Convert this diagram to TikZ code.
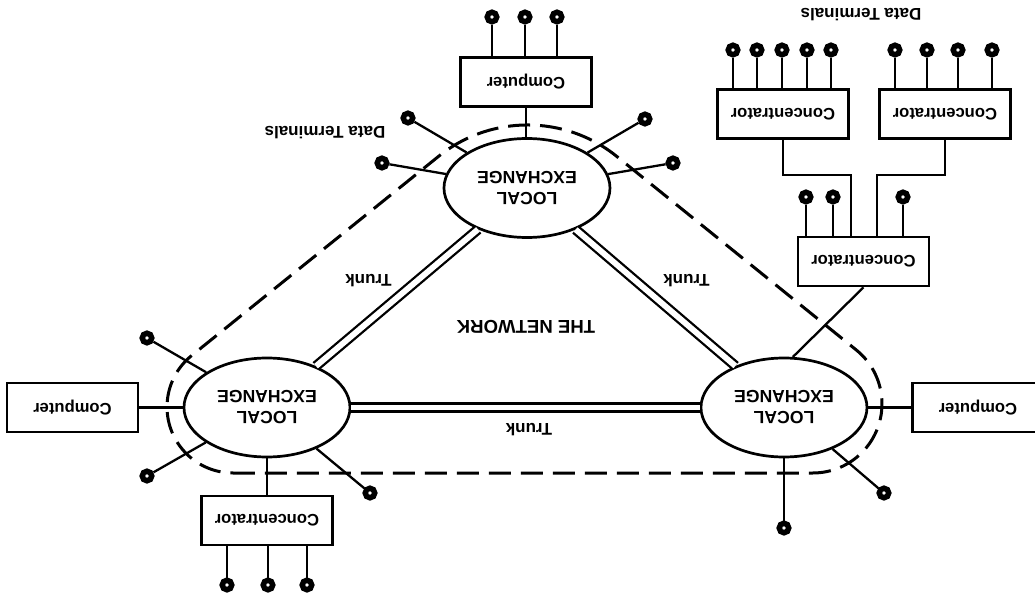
\documentclass[tikz,border=0pt]{standalone}
\usepackage{fontspec}
\setmainfont{Liberation Sans}
\usetikzlibrary{shapes.geometric,calc}

\tikzset{
  exch/.style={ellipse, draw, line width=1.35pt, minimum width=83pt, minimum height=49.5pt,
               inner sep=0pt, align=center, font=\bfseries\fontsize{8.8}{10.5}\selectfont},
  box/.style={rectangle, draw, line width=1.35pt, minimum width=65.5pt, minimum height=24.5pt,
              font=\bfseries\fontsize{8.3}{10}\selectfont},
  term/.style={circle, draw, fill=white, line width=2.75pt, minimum size=4.75pt, inner sep=0pt},
  trunk/.style={double, double distance=2.9pt, line width=1.15pt},
  link/.style={line width=1.15pt},
  boundary/.style={line width=1.5pt, dash pattern=on 11pt off 5pt},
  lbl/.style={font=\bfseries\fontsize{8.5}{10}\selectfont}
}

\begin{document}
% the sheet was scanned upside down: draw it upright, then turn it
\begin{tikzpicture}[x=0.5pt, y=0.5pt, rotate=180, transform shape]

\useasboundingbox (0,0) rectangle (1035,594);

% ---------------------------------------------------------
% Exchanges
% ---------------------------------------------------------
\node[exch] (exbot)   at (508,188)   {LOCAL\\EXCHANGE};
\node[exch] (exleft)  at (251,407.5) {LOCAL\\EXCHANGE};
\node[exch] (exright) at (768,407.5) {LOCAL\\EXCHANGE};

% ---------------------------------------------------------
% Computers and concentrators
% ---------------------------------------------------------
\node[box] (cbot)   at (509,82)      {Computer};
\node[box] (cleft)  at (57,407.5)    {Computer};
\node[box] (cright) at (962.5,407.5) {Computer};
\node[box] (kright) at (768,520.5)   {Concentrator};
\node[box] (kmid)   at (171.5,261.5) {Concentrator};
\node[box] (ka)     at (252,114)     {Concentrator};
\node[box] (kb)     at (90,114)      {Concentrator};

% ---------------------------------------------------------
% Trunks
% ---------------------------------------------------------
\draw[trunk] (exleft) -- (exright);
\draw[trunk] (exleft) -- (exbot);
\draw[trunk] (exright) -- (exbot);

% ---------------------------------------------------------
% Local connections
% ---------------------------------------------------------
\draw[link] (cbot.north) -- (cbot.north |- exbot.south);
\draw[link] (cleft) -- (exleft);
\draw[link] (exright) -- (cright);
\draw[link] (exright) -- (kright);
\draw[link] (kmid.north) -- (exleft.-100);
\draw[link] (ka.north) -- ++(0,35) -| ($(kmid.south)+(12.5,0)$);
\draw[link] (kb.north) -- ++(0,35) -| ($(kmid.south)+(-13.5,0)$);

% ---------------------------------------------------------
% Data terminals
% ---------------------------------------------------------
\foreach \x/\y [count=\i] in {627/118, 653/163, 390/119, 362/163}
  {\node[term] (tb\i) at (\x,\y) {}; \draw[link] (tb\i) -- (exbot);}
\foreach \x/\y [count=\i] in {888/338, 888/476, 665/493}
  {\node[term] (tr\i) at (\x,\y) {}; \draw[link] (tr\i) -- (exright);}
\foreach \x/\y [count=\i] in {151/493, 251/528}
  {\node[term] (tl\i) at (\x,\y) {}; \draw[link] (tl\i) -- (exleft);}

\foreach \x [count=\i] in {478,510,543}
  {\node[term] (tc\i) at (\x,17) {}; \draw[link] (tc\i) -- (tc\i |- cbot.south);}
\foreach \x [count=\i] in {728,767,808}
  {\node[term] (tk\i) at (\x,585) {}; \draw[link] (tk\i) -- (tk\i |- kright.north);}
\foreach \x [count=\i] in {132,202,229}
  {\node[term] (tm\i) at (\x,197) {}; \draw[link] (tm\i) -- (tm\i |- kmid.south);}
\foreach \x [count=\i] in {204,228,253,278,302}
  {\node[term] (ta\i) at (\x,50) {}; \draw[link] (ta\i) -- (ta\i |- ka.south);}
\foreach \x [count=\i] in {43,77,108,140}
  {\node[term] (tn\i) at (\x,50) {}; \draw[link] (tn\i) -- (tn\i |- kb.south);}

% ---------------------------------------------------------
% Network boundary
% ---------------------------------------------------------
\draw[boundary] (802,473) -- (222.2,473)
    arc[start angle=90, end angle=231, radius=69.2] -- (418,156.6)
    arc[start angle=231, end angle=309, radius=142] -- (843.5,355.7)
    arc[start angle=309, end angle=450, radius=66] -- cycle;

% ---------------------------------------------------------
% Labels
% ---------------------------------------------------------
\node[lbl] (dtl) at (710,133)    {Data Terminals};
\node[lbl] (dtr) at (174,15)     {Data Terminals};
\node[lbl] (trl) at (666.5,281)  {Trunk};
\node[lbl] (trr) at (348.5,280.5){Trunk};
\node[lbl] (trb) at (506,430)    {Trunk};
\node[lbl, font=\bfseries\fontsize{9.3}{11}\selectfont] (net) at (509,326.5) {THE NETWORK};

\end{tikzpicture}
\end{document}
